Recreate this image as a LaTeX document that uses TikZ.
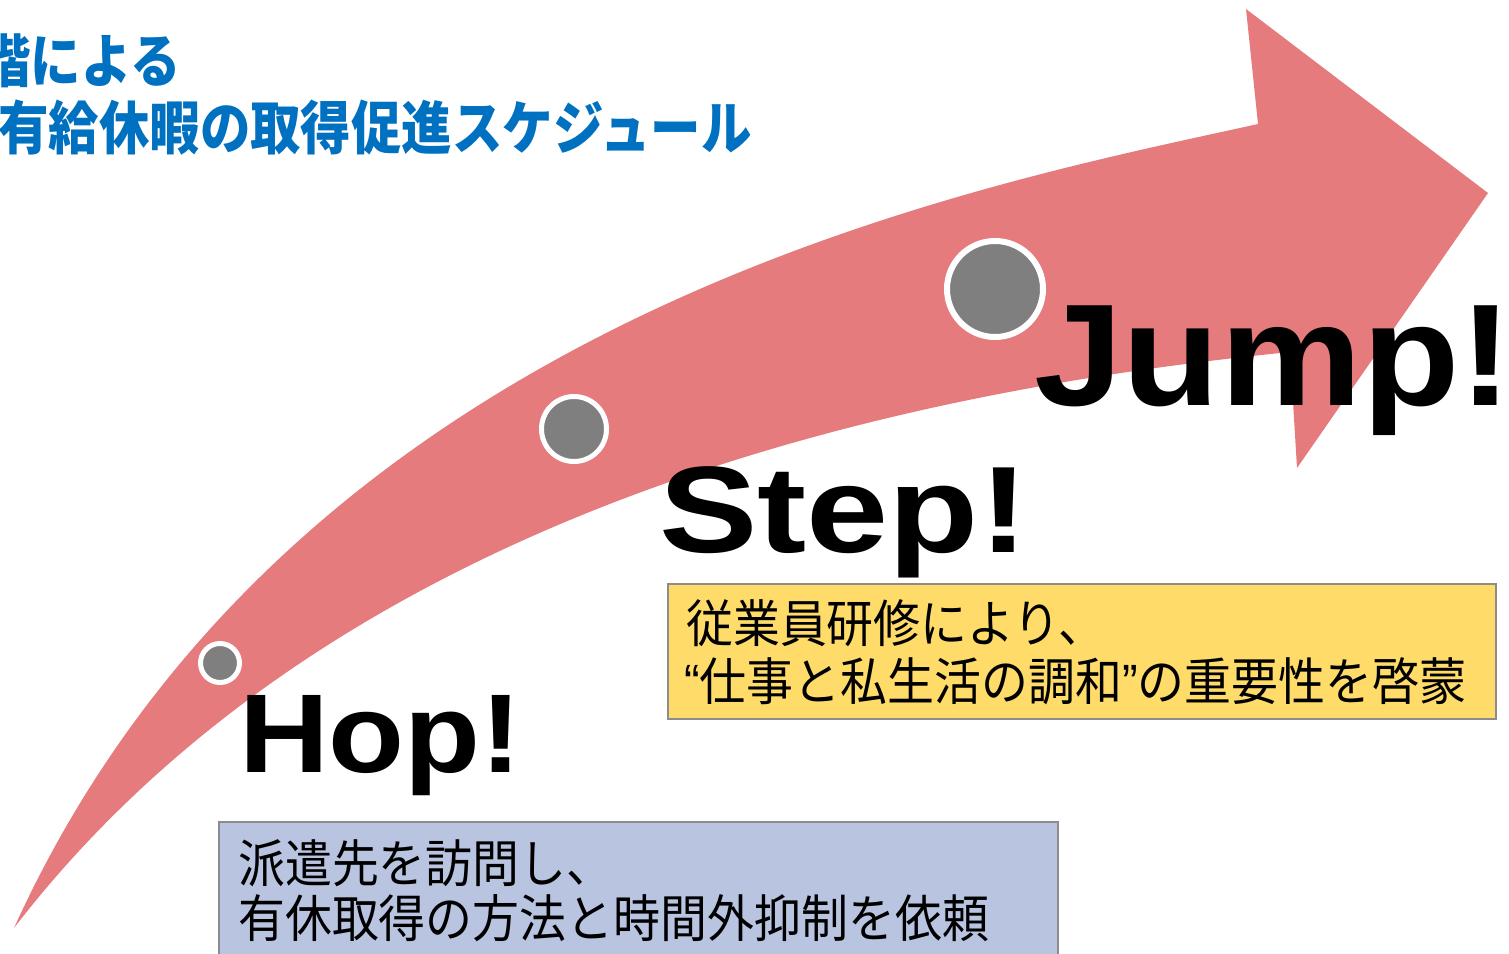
\documentclass[tikz,border=0pt]{standalone}
\usepackage{fontspec}
\usepackage{graphicx}
\newfontfamily\cjk{Noto Sans CJK JP}
\newfontfamily\lsans{Liberation Sans}
\definecolor{arrowpink}{HTML}{E67B7E}
\definecolor{dotgray}{HTML}{7F7F7F}
\definecolor{titleblue}{HTML}{0070C0}
\definecolor{noteyellow}{HTML}{FFDC69}
\definecolor{noteblue}{HTML}{B8C4E0}
\definecolor{noteborder}{HTML}{8C8C8C}
\tikzset{
  dot/.style={circle, fill=dotgray, draw=white, inner sep=0pt},
  bigword/.style={anchor=base west, inner sep=0pt, font=\lsans\bfseries},
  titleline/.style={anchor=base west, inner sep=0pt, text=titleblue, font=\cjk\bfseries},
  notetext/.style={anchor=base west, inner sep=0pt, font=\cjk},
  notebox/.style={rectangle, draw=noteborder, line width=1.8pt, inner sep=0pt},
}
\begin{document}
\begin{tikzpicture}[x=1pt, y=-1pt]
\useasboundingbox (0,0) rectangle (1509,953);
\clip (0,0) rectangle (1509,953);
% curved arrow
\fill[arrowpink] (14,928) .. controls (294,312) and (978,186) .. (1258,124)
  -- (1246,9) -- (1488,193) -- (1297,468) -- (1290,352)
  .. controls (952,386) and (352,489) .. (14,928) -- cycle;
% dots
\node[dot, line width=5pt, minimum size=39pt] (hopdot) at (220,663) {};
\node[dot, line width=5pt, minimum size=65pt] (stepdot) at (574,429) {};
\node[dot, line width=6pt, minimum size=96pt] (jumpdot) at (995,289) {};
% title
\node[titleline] (title1) at (-20,82) {\scalebox{0.87}[1]{\fontsize{58}{58}\selectfont 階による}};
\node[titleline] (title2) at (-2,149) {\scalebox{0.87}[1]{\fontsize{58}{58}\selectfont 有給休暇の取得促進スケジュール}};
% big words
\node[bigword] (hop) at (239,772) {\scalebox{1.11}[1]{\fontsize{112}{112}\selectfont Hop!}};
\node[bigword] (step) at (659,552) {\scalebox{1.2}[1]{\fontsize{123}{123}\selectfont Step!}};
\node[bigword] (jump) at (1034,405) {\scalebox{1.1}[1]{\fontsize{145}{145}\selectfont Jump!}};
% note boxes
\node[notebox, fill=noteyellow, minimum width=828pt, minimum height=135pt] (stepnote) at (1082,651.5) {};
\node[notebox, fill=noteblue, minimum width=839pt, minimum height=138pt] (hopnote) at (638.5,891) {};
\node[notetext] (stepnote1) at (686,642) {\scalebox{0.92}[1]{\fontsize{51}{51}\selectfont 従業員研修により、}};
\node[notetext] (stepnote2) at (684,700) {\scalebox{0.92}[1]{\fontsize{51}{51}\selectfont {\lsans “}仕事と私生活の調和{\lsans ”}の重要性を啓蒙}};
\node[notetext] (hopnote1) at (238,882) {\scalebox{0.92}[1]{\fontsize{51}{51}\selectfont 派遣先を訪問し、}};
\node[notetext] (hopnote2) at (238,937) {\scalebox{0.92}[1]{\fontsize{51}{51}\selectfont 有休取得の方法と時間外抑制を依頼}};
\end{tikzpicture}
\end{document}
